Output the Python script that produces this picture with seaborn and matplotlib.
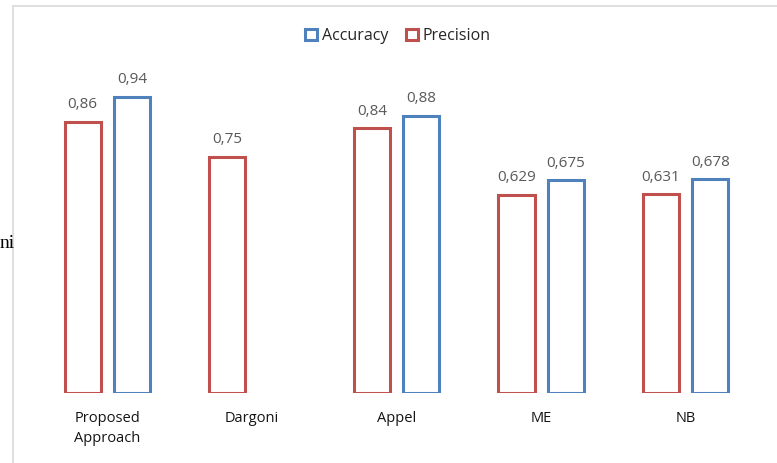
import matplotlib
matplotlib.use('Agg')
import numpy as np
import pandas as pd
import matplotlib.pyplot as plt
from matplotlib.lines import Line2D
from matplotlib.patches import Patch
import seaborn as sns

methods = ['Proposed\nApproach', 'Dargoni', 'Appel', 'ME', 'NB']
precision = [0.86, 0.75, 0.84, 0.629, 0.631]
accuracy = [0.94, np.nan, 0.88, 0.675, 0.678]

RED = '#C0504D'
BLUE = '#4F81BD'
FONT = ['Open Sans', 'DejaVu Sans']


def main():
    sns.set_style('white')
    plt.rcParams['font.family'] = FONT

    df = pd.DataFrame({
        'method': methods * 2,
        'metric': ['Precision'] * len(methods) + ['Accuracy'] * len(methods),
        'value': precision + accuracy,
    })

    fig = plt.figure(figsize=(7.77, 4.63), dpi=100)
    ax = fig.add_axes([35 / 777, 70 / 463, 723 / 777, 315 / 463])

    sns.barplot(
        data=df, x='method', y='value', hue='metric',
        hue_order=['Precision', 'Accuracy'],
        palette={'Precision': RED, 'Accuracy': BLUE},
        fill=False, linewidth=2.2, width=0.68, gap=0.265,
        errorbar=None, legend=False, ax=ax,
    )

    for c in ax.containers:
        labels = []
        for b in c:
            h = b.get_height()
            labels.append('' if np.isnan(h) else f"{h:g}".replace('.', ','))
        ax.bar_label(c, labels=labels, padding=7, fontsize=11, color='#595959')

    ax.set_ylim(0, 1.0)
    ax.set_xlim(-0.5, len(methods) - 0.5)
    ax.set_xlabel('')
    ax.set_ylabel('')
    ax.set_yticks([])
    ax.tick_params(axis='x', length=0, pad=13, labelsize=10.5, labelcolor='#141414')
    for lab in ax.get_xticklabels():
        lab.set_verticalalignment('top')
        lab.set_linespacing(1.45)
    sns.despine(ax=ax, left=True, bottom=True)

    handles = [
        Patch(facecolor='white', edgecolor=BLUE, linewidth=2.2, label='Accuracy'),
        Patch(facecolor='white', edgecolor=RED, linewidth=2.2, label='Precision'),
    ]
    fig.legend(
        handles=handles, loc='center', bbox_to_anchor=(398 / 777, 1 - 36 / 463),
        ncol=2, frameon=False, fontsize=11.5, handlelength=0.75, handleheight=0.75,
        handletextpad=0.3, columnspacing=1.1, labelcolor='#262626',
    )

    # chart area frame (light gray, cut off at right/bottom in the source)
    x0, y0 = 12.5 / 777, 1 - 6 / 463
    fig.add_artist(Line2D([x0, 1], [y0, y0], transform=fig.transFigure,
                          color='#D9D9D9', lw=1.2))
    fig.add_artist(Line2D([x0, x0], [0, y0], transform=fig.transFigure,
                          color='#D9D9D9', lw=1.2))

    # stray page text left of the chart
    fig.text(0.0, 1 - 243 / 463, 'ni', family='Liberation Serif', fontsize=14,
             color='black', ha='left', va='center')

    fig.savefig('out.png', dpi=100)


if __name__ == '__main__':
    main()
